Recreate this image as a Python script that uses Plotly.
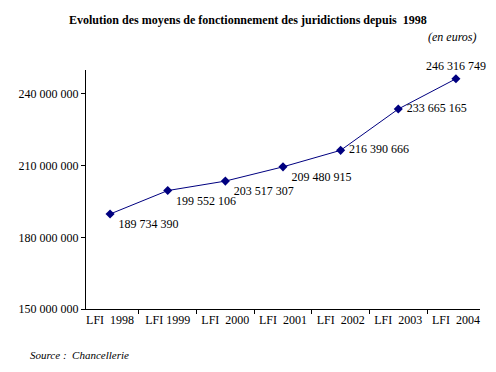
import plotly.graph_objects as go

categories = ["LFI  1998", "LFI 1999", "LFI  2000", "LFI  2001", "LFI  2002", "LFI  2003", "LFI  2004"]
values = [189734390, 199552106, 203517307, 209480915, 216390666, 233665165, 246316749]
value_labels = ["189 734 390", "199 552 106", "203 517 307", "209 480 915", "216 390 666", "233 665 165", "246 316 749"]
label_positions = ["bottom right", "bottom right", "bottom right", "bottom right", "middle right", "middle right", "top center"]
y_ticks = [150000000, 180000000, 210000000, 240000000]
y_tick_labels = ["150 000 000", "180 000 000", "210 000 000", "240 000 000"]

font_family = "Liberation Serif, Times New Roman, serif"

# page body has an 8px default margin; compensate so the plot sits where the reference's does
PAD = 8
PL, PT, PR, PB = 86, 70, 480, 309  # plot area in screen px
W, H = 496 - PAD, 372 - PAD
pw, ph = PR - PL, PB - PT


def px(xs):
    return (xs - PL) / pw


def py(ys):
    return (PB - ys) / ph


fig = go.Figure()
fig.add_trace(go.Scatter(
    x=categories, y=values,
    mode="lines+markers+text",
    line=dict(color="#000080", width=1),
    marker=dict(symbol="diamond", size=7, color="#000080"),
    text=[" " + t for t in value_labels[:-1]] + [value_labels[-1]],
    textposition=label_positions,
    textfont=dict(family=font_family, size=12, color="black"),
    cliponaxis=False,
    hoverinfo="skip",
))

fig.update_layout(
    width=W, height=H,
    margin=dict(l=PL - PAD, r=W - (PR - PAD), t=PT - PAD, b=H - (PB - PAD), autoexpand=False),
    paper_bgcolor="white", plot_bgcolor="white",
    showlegend=False,
    font=dict(family=font_family, size=12, color="black"),
    xaxis=dict(
        type="category",
        showline=True, linecolor="black", linewidth=1,
        ticks="outside", tickson="boundaries", ticklen=4, tickcolor="black",
        showgrid=False, zeroline=False,
        tickfont=dict(family=font_family, size=12),
    ),
    yaxis=dict(
        range=[150000000, 250000000],
        tickvals=y_ticks, ticktext=y_tick_labels,
        showline=True, linecolor="black", linewidth=1,
        ticks="outside", ticklen=4, tickcolor="black",
        showgrid=False, zeroline=False,
        tickfont=dict(family=font_family, size=12),
    ),
    annotations=[
        dict(text="<b>Evolution des moyens de fonctionnement des juridictions depuis  1998</b>",
             xref="paper", yref="paper", x=px(248), y=py(20),
             xanchor="center", yanchor="middle", showarrow=False,
             font=dict(family=font_family, size=12)),
        dict(text="<i>(en euros)</i>",
             xref="paper", yref="paper", x=px(479), y=py(37),
             xanchor="right", yanchor="middle", showarrow=False,
             font=dict(family=font_family, size=12)),
        dict(text="<i>Source :  Chancellerie</i>",
             xref="paper", yref="paper", x=px(28), y=py(355),
             xanchor="left", yanchor="middle", showarrow=False,
             font=dict(family=font_family, size=11)),
    ],
)

fig.write_html("out.html")
